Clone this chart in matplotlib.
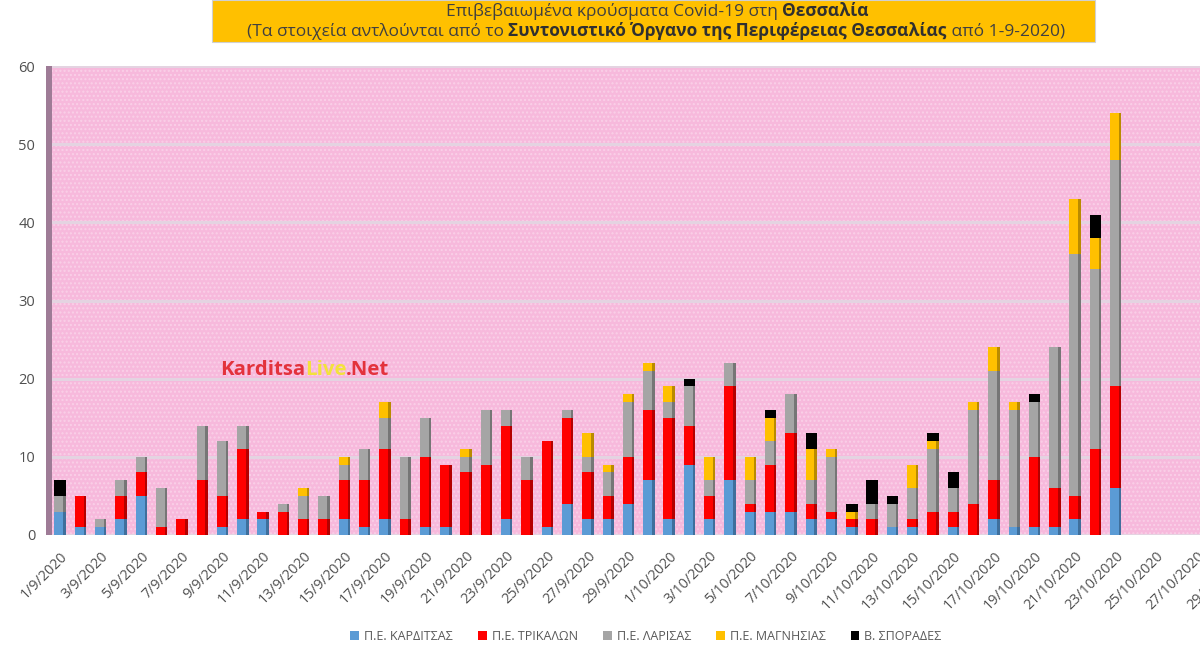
import matplotlib
matplotlib.use('Agg')
import matplotlib.pyplot as plt
from matplotlib.patches import Rectangle, Patch

# ---------------- data ----------------
series_names = ['Π.Ε. ΚΑΡΔΙΤΣΑΣ', 'Π.Ε. ΤΡΙΚΑΛΩΝ', 'Π.Ε. ΛΑΡΙΣΑΣ', 'Π.Ε. ΜΑΓΝΗΣΙΑΣ', 'Β. ΣΠΟΡΑΔΕΣ']

# daily values from 1/9/2020 to 23/10/2020
karditsa = [3, 1, 1, 2, 5, 0, 0, 0, 1, 2, 2, 0, 0, 0, 2, 1, 2, 0, 1, 1, 0, 0, 2, 0, 1, 4, 2,
            2, 4, 7, 2, 9, 2, 7, 3, 3, 3, 2, 2, 1, 0, 1, 1, 0, 1, 0, 2, 1, 1, 1, 2, 0, 6]
trikala = [0, 4, 0, 3, 3, 1, 2, 7, 4, 9, 1, 3, 2, 2, 5, 6, 9, 2, 9, 8, 8, 9, 12, 7, 11, 11, 6,
           3, 6, 9, 13, 5, 3, 12, 1, 6, 10, 2, 1, 1, 2, 0, 1, 3, 2, 4, 5, 0, 9, 5, 3, 11, 13]
larisa = [2, 0, 1, 2, 2, 5, 0, 7, 7, 3, 0, 1, 3, 3, 2, 4, 4, 8, 5, 0, 2, 7, 2, 3, 0, 1, 2,
          3, 7, 5, 2, 5, 2, 3, 3, 3, 5, 3, 7, 0, 2, 3, 4, 8, 3, 12, 14, 15, 7, 18, 31, 23, 29]
magnisia = [0, 0, 0, 0, 0, 0, 0, 0, 0, 0, 0, 0, 1, 0, 1, 0, 2, 0, 0, 0, 1, 0, 0, 0, 0, 0, 3,
            1, 1, 1, 2, 0, 3, 0, 3, 3, 0, 4, 1, 1, 0, 0, 3, 1, 0, 1, 3, 1, 0, 0, 7, 4, 6]
sporades = [2, 0, 0, 0, 0, 0, 0, 0, 0, 0, 0, 0, 0, 0, 0, 0, 0, 0, 0, 0, 0, 0, 0, 0, 0, 0, 0,
            0, 0, 0, 0, 1, 0, 0, 0, 1, 0, 2, 0, 1, 3, 1, 0, 1, 2, 0, 0, 0, 1, 0, 0, 3, 0]

tick_labels = ['1/9/2020', '3/9/2020', '5/9/2020', '7/9/2020', '9/9/2020', '11/9/2020',
               '13/9/2020', '15/9/2020', '17/9/2020', '19/9/2020', '21/9/2020', '23/9/2020',
               '25/9/2020', '27/9/2020', '29/9/2020', '1/10/2020', '3/10/2020', '5/10/2020',
               '7/10/2020', '9/10/2020', '11/10/2020', '13/10/2020', '15/10/2020', '17/10/2020',
               '19/10/2020', '21/10/2020', '23/10/2020', '25/10/2020', '27/10/2020', '29/10/2020']
y_ticks = [0, 10, 20, 30, 40, 50, 60]

# ---------------- style ----------------
colors = ['#5B9BD5', '#FF0000', '#A5A5A5', '#FFC000', '#000000']
side_colors = ['#3F6F9C', '#B40000', '#767676', '#B98B00', '#000000']
FONT = ['Open Sans', 'DejaVu Sans']
plt.rcParams['font.family'] = FONT

W, H = 1200, 655
fig = plt.figure(figsize=(W / 100, H / 100), dpi=100)
fig.patch.set_facecolor('white')

ax = fig.add_axes([52 / W, 1 - 535 / H, 1216 / W, 469 / H])
ax.set_facecolor('#F7B9DC')
ax.add_patch(Rectangle((0, 0), 1, 1, transform=ax.transAxes, facecolor='none',
                       edgecolor='#FAD0E8', hatch='....', lw=0, zorder=0))

series = [karditsa, trikala, larisa, magnisia, sporades]
xs = list(range(1, len(karditsa) + 1))
bottom = [0] * len(xs)
for vals, c, sc in zip(series, colors, side_colors):
    ax.bar(xs, vals, bottom=bottom, width=0.56, color=sc, zorder=2, linewidth=0)
    ax.bar([x - 0.06 for x in xs], vals, bottom=bottom, width=0.44, color=c, zorder=3, linewidth=0)
    bottom = [b + v for b, v in zip(bottom, vals)]

ax.set_xlim(0.6, 60.5)
ax.set_ylim(0, 60)
ax.set_yticks(y_ticks)
ax.yaxis.grid(True, color='#E4D3E1', lw=2.2)
ax.set_axisbelow(True)
ax.set_xticks(list(range(1, 2 * len(tick_labels), 2)))
ax.set_xticklabels(tick_labels, rotation=45, ha='right', va='top', rotation_mode='anchor')
ax.tick_params(axis='both', length=0, labelcolor='#505050')
ax.tick_params(axis='x', pad=10, labelsize=10.3)
ax.tick_params(axis='y', pad=12, labelsize=10.5)
for s in ax.spines.values():
    s.set_visible(False)

# left 3D wall
fig.patches.append(Rectangle((46 / W, 1 - 535 / H), 6 / W, 469 / H, transform=fig.transFigure,
                             facecolor='#9E7B96', edgecolor='none', zorder=5))

# title box
fig.patches.append(Rectangle((212 / W, 1 - 42 / H), 883 / W, 42 / H, transform=fig.transFigure,
                             facecolor='#FFC000', edgecolor='#D0D0D0', lw=0.8))

renderer = fig.canvas.get_renderer()


def adv(s, size, weight):
    t1 = fig.text(0, 0, 'x' + s + 'x', fontsize=size, fontweight=weight)
    t2 = fig.text(0, 0, 'xx', fontsize=size, fontweight=weight)
    w = t1.get_window_extent(renderer).width - t2.get_window_extent(renderer).width
    t1.remove()
    t2.remove()
    return w


def rich(parts, x_px, ybase_px, size, center=True):
    widths = [adv(s, size, w) for s, w, c in parts]
    x0 = x_px - sum(widths) / 2 if center else x_px
    for (s, w, c), wd in zip(parts, widths):
        fig.text(x0 / W, 1 - ybase_px / H, s, fontsize=size, fontweight=w, color=c,
                 va='baseline', ha='left', zorder=10)
        x0 += wd


tc = '#404040'
rich([('Επιβεβαιωμένα κρούσματα Covid-19 στη ', 'normal', tc),
      ('Θεσσαλία', 'bold', '#303030')], 657, 16, 12.5)
rich([('(Τα στοιχεία αντλούνται από το ', 'normal', tc),
      ('Συντονιστικό Όργανο της Περιφέρειας Θεσσαλίας', 'bold', '#303030'),
      (' από 1-9-2020)', 'normal', tc)], 656, 36, 12.5)

# watermark
rich([('Karditsa', 'bold', '#E3323C'), ('Live', 'bold', '#F3E23C'), ('.Net', 'bold', '#E3323C')],
     220, 375, 14.7, center=False)

handles = [Patch(facecolor=c, edgecolor='none', label=n) for c, n in zip(colors, series_names)]
fig.legend(handles=handles, loc='center', bbox_to_anchor=(646 / W, 1 - 636 / H), ncol=5,
           frameon=False, fontsize=9, labelcolor='#595959', handlelength=0.7,
           handleheight=0.7, handletextpad=0.4, columnspacing=2.0)

fig.savefig('out.png', dpi=100)
